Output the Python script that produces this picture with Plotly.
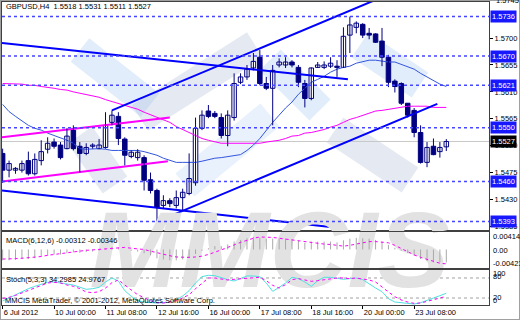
import plotly.graph_objects as go

W, H = 520, 320

# ---------------- data ----------------
opens = [1.5507,1.5479,1.5479,1.5479,1.5495,1.5473,1.5495,1.5514,1.5526,1.5521,
         1.5515,1.5546,1.5519,1.5507,1.5519,1.5515,1.5517,1.5559,1.5569,1.5531,
         1.5502,1.5500,1.5500,1.5463,1.5445,1.5420,1.5428,1.5420,1.5433,1.5440,
         1.5458,1.5549,1.5578,1.5574,1.5567,1.5537,1.5567,1.5626,1.5635,1.5650,
         1.5668,1.5624,1.5616,1.5655,1.5655,1.5660,1.5651,1.5624,1.5599,1.5651,
         1.5651,1.5653,1.5653,1.5651,1.5705,1.5718,1.5723,1.5708,1.5707,1.5695,
         1.5668,1.5628,1.5624,1.5591,1.5579,1.5542,1.5492,1.5519,1.5510,1.5518]
highs = [1.5515,1.5495,1.5484,1.5495,1.5510,1.5507,1.5529,1.5534,1.5532,1.5526,
         1.5549,1.5554,1.5526,1.5524,1.5524,1.5531,1.5576,1.5579,1.5576,1.5534,
         1.5512,1.5514,1.5504,1.5475,1.5448,1.5437,1.5432,1.5445,1.5448,1.5507,
         1.5567,1.5579,1.5588,1.5578,1.5574,1.5579,1.5641,1.5641,1.5655,1.5675,
         1.5680,1.5635,1.5655,1.5666,1.5668,1.5663,1.5655,1.5630,1.5651,1.5660,
         1.5661,1.5668,1.5663,1.5718,1.5736,1.5728,1.5725,1.5717,1.5708,1.5717,
         1.5672,1.5631,1.5626,1.5591,1.5583,1.5554,1.5526,1.5532,1.5526,1.5531]
lows = [1.5458,1.5467,1.5473,1.5475,1.5470,1.5470,1.5487,1.5507,1.5515,1.5497,
        1.5514,1.5512,1.5475,1.5504,1.5515,1.5514,1.5515,1.5554,1.5521,1.5487,
        1.5499,1.5495,1.5445,1.5440,1.5393,1.5415,1.5417,1.5415,1.5412,1.5437,
        1.5453,1.5546,1.5566,1.5566,1.5532,1.5519,1.5562,1.5623,1.5630,1.5646,
        1.5621,1.5613,1.5554,1.5651,1.5650,1.5651,1.5618,1.5584,1.5596,1.5650,
        1.5648,1.5650,1.5635,1.5650,1.5675,1.5708,1.5700,1.5698,1.5692,1.5653,
        1.5618,1.5609,1.5588,1.5567,1.5534,1.5490,1.5484,1.5504,1.5500,1.5511]
closes = [1.5479,1.5490,1.5482,1.5490,1.5473,1.5497,1.5510,1.5524,1.5519,1.5500,
          1.5536,1.5515,1.5507,1.5517,1.5521,1.5521,1.5554,1.5571,1.5532,1.5504,
          1.5509,1.5509,1.5462,1.5445,1.5417,1.5428,1.5423,1.5433,1.5442,1.5465,
          1.5549,1.5571,1.5569,1.5569,1.5537,1.5571,1.5624,1.5635,1.5648,1.5661,
          1.5624,1.5616,1.5646,1.5660,1.5660,1.5655,1.5626,1.5599,1.5650,1.5655,
          1.5655,1.5658,1.5651,1.5703,1.5722,1.5725,1.5705,1.5705,1.5693,1.5668,
          1.5626,1.5619,1.5591,1.5571,1.5542,1.5492,1.5517,1.5505,1.5517,1.5527]

ma_fast = [1.5589,1.5577,1.5569,1.5561,1.5554,1.5549,1.5546,1.5541,1.5537,1.5534,
           1.5529,1.5524,1.5515,1.5514,1.5515,1.5515,1.5514,1.5512,1.5512,1.5512,
           1.5512,1.5512,1.5510,1.5507,1.5504,1.5499,1.5495,1.5492,1.5492,1.5492,
           1.5492,1.5494,1.5497,1.5499,1.5500,1.5502,1.5504,1.5505,1.5512,1.5521,
           1.5532,1.5546,1.5559,1.5571,1.5583,1.5593,1.5606,1.5616,1.5626,1.5631,
           1.5636,1.5643,1.5648,1.5651,1.5653,1.5658,1.5660,1.5663,1.5663,1.5661,
           1.5660,1.5660,1.5656,1.5653,1.5648,1.5641,1.5635,1.5628,1.5623,1.5619]
ma_slow = [1.5624,1.5624,1.5623,1.5623,1.5621,1.5621,1.5619,1.5618,1.5616,1.5614,
           1.5613,1.5610,1.5608,1.5606,1.5603,1.5601,1.5597,1.5594,1.5591,1.5588,
           1.5584,1.5581,1.5576,1.5572,1.5567,1.5564,1.5559,1.5552,1.5547,1.5542,
           1.5536,1.5532,1.5529,1.5526,1.5524,1.5524,1.5524,1.5524,1.5524,1.5524,
           1.5524,1.5526,1.5527,1.5529,1.5532,1.5536,1.5537,1.5541,1.5542,1.5544,
           1.5547,1.5551,1.5554,1.5559,1.5564,1.5567,1.5571,1.5574,1.5578,1.5579,
           1.5581,1.5583,1.5584,1.5586,1.5586,1.5586,1.5586,1.5584,1.5584,1.5584]

macd_main = [-0.0026,-0.0026,-0.0025,-0.0023,-0.0023,-0.0021,-0.0018,-0.0015,-0.0012,-0.0012,
             -0.0009,-0.0007,-0.0008,-0.0006,-0.0005,-0.0003,0.0002,0.0006,0.0005,0.0000,
             -0.0003,-0.0005,-0.0009,-0.0014,-0.0021,-0.0024,-0.0026,-0.0026,-0.0024,-0.0020,
             -0.0011,-0.0003,0.0003,0.0008,0.0008,0.0012,0.0019,0.0023,0.0027,0.0030,
             0.0029,0.0026,0.0026,0.0026,0.0026,0.0025,0.0021,0.0016,0.0019,0.0019,
             0.0019,0.0019,0.0017,0.0022,0.0026,0.0028,0.0027,0.0026,0.0023,0.0019,
             0.0011,0.0004,-0.0003,-0.0009,-0.0015,-0.0023,-0.0028,-0.0031,-0.0031,-0.00312]
macd_signal = [-0.0023,-0.0023,-0.0022,-0.0021,-0.0020,-0.0019,-0.0017,-0.0014,-0.0012,-0.0009,
               -0.0007,-0.0005,-0.0003,-0.0002,-0.0001,0.0000,0.0002,0.0003,0.0004,0.0005,
               0.0003,0.0001,0.0000,-0.0004,-0.0008,-0.0012,-0.0015,-0.0018,-0.0019,-0.0019,
               -0.0018,-0.0016,-0.0012,-0.0007,-0.0001,0.0005,0.0012,0.0017,0.0022,0.0027,
               0.0030,0.0030,0.0029,0.0027,0.0025,0.0023,0.0021,0.0018,0.0016,0.0014,
               0.0013,0.0012,0.0010,0.0008,0.0010,0.0013,0.0017,0.0019,0.0019,0.0018,
               0.0016,0.0010,0.0002,-0.0006,-0.0013,-0.0019,-0.0024,-0.0029,-0.0033,-0.00346]

stoch_main = [11,20,30,40,48,55,62,67,68,66,
              62,59,52,46,48,52,68,80,71,42,
              25,12,8,6,5,6,8,15,26,42,
              65,84,88,87,80,75,71,78,86,86,
              84,65,40,52,65,82,78,68,55,72,
              82,82,78,76,78,80,75,62,50,39,
              18,8,6,4,2,6,14,20,27,34.2985]
stoch_signal = [19,22,28,35,42,50,58,65,67,65,
                59,55,48,38,36,39,50,66,74,58,
                44,30,20,12,6,5,8,12,20,30,
                48,65,80,80,76,74,76,78,80,82,
                82,72,58,50,60,75,78,74,70,72,
                75,78,80,80,78,80,78,74,68,52,
                38,24,14,8,4,5,10,16,21,24.9767]

x_tick_bars = [0, 8, 16, 24, 32, 40, 48, 56, 64]
x_tick_labels = ["6 Jul 2012", "10 Jul 00:00", "11 Jul 08:00", "12 Jul 16:00",
                 "16 Jul 00:00", "17 Jul 08:00", "18 Jul 16:00", "20 Jul 00:00",
                 "23 Jul 08:00"]
price_ticks = [1.5700, 1.5655, 1.5610, 1.5565, 1.5520, 1.5475, 1.5430, 1.5385]
level_prices = [1.5736, 1.5670, 1.5621, 1.5550, 1.5460, 1.5393]
current_price = 1.5527

# trend lines: (bar0, price0, bar1, price1)
blue_lines = [(-0.1, 1.5692, 53.7, 1.5631),
              (17.0, 1.5579, 60.0, 1.5773),
              (24.0, 1.5393, 67.6, 1.5590),
              (-0.1, 1.5445, 51.7, 1.5383)]
magenta_lines = [(-0.1, 1.5534, 26.0, 1.5567),
                 (-0.1, 1.5460, 25.7, 1.5494)]

# ---------------- figure ----------------
FONT = "Liberation Sans"
FS = 7.5
NAVY = "#000080"
XMIN, XMAX = -0.1, 75.64
idx = list(range(len(closes)))

def py(px):
    return 1 - px / H

def pxx(px):
    return px / W

fig = go.Figure()

# moving averages
fig.add_trace(go.Scatter(x=idx, y=ma_slow, mode="lines",
                         line=dict(color="#FF00FF", width=1), xaxis="x", yaxis="y"))
fig.add_trace(go.Scatter(x=idx, y=ma_fast, mode="lines",
                         line=dict(color="#3355DD", width=1), xaxis="x", yaxis="y"))

# trend lines
for (x0, p0, x1, p1) in magenta_lines:
    fig.add_trace(go.Scatter(x=[x0, x1], y=[p0, p1], mode="lines",
                             line=dict(color="#FF00FF", width=2), xaxis="x", yaxis="y"))
for (x0, p0, x1, p1) in blue_lines:
    fig.add_trace(go.Scatter(x=[x0, x1], y=[p0, p1], mode="lines",
                             line=dict(color="#0000FF", width=2), xaxis="x", yaxis="y"))

# wicks
wx, wy = [], []
for i in idx:
    wx += [i, i, None]
    wy += [lows[i], highs[i], None]
fig.add_trace(go.Scatter(x=wx, y=wy, mode="lines", line=dict(color=NAVY, width=1),
                         xaxis="x", yaxis="y"))

# bodies
up = [i for i in idx if closes[i] >= opens[i]]
dn = [i for i in idx if closes[i] < opens[i]]
MINB = 0.00005
fig.add_trace(go.Bar(x=up, y=[max(closes[i] - opens[i], MINB) for i in up],
                     base=[opens[i] for i in up], width=0.7,
                     marker=dict(color="white", line=dict(color=NAVY, width=1)),
                     xaxis="x", yaxis="y"))
fig.add_trace(go.Bar(x=dn, y=[max(opens[i] - closes[i], MINB) for i in dn],
                     base=[closes[i] for i in dn], width=0.7,
                     marker=dict(color=NAVY, line=dict(color=NAVY, width=1)),
                     xaxis="x", yaxis="y"))

# watermark text, placed in the MACD pane (first trace there) so it stays under its lines
fig.add_trace(go.Scatter(
    x=[41.5], y=[-0.0026], mode="text", text=["MMCIS"], cliponaxis=False,
    textfont=dict(size=108, color="#E2E2E2", family=FONT, weight="bold", style="italic"),
    hoverinfo="skip", showlegend=False, xaxis="x2", yaxis="y2"))

# MACD histogram as thin gray lines
hx, hy = [], []
for i in idx:
    hx += [i, i, None]
    hy += [0, macd_main[i], None]
fig.add_trace(go.Scatter(x=hx, y=hy, mode="lines", line=dict(color="#A8A8A8", width=1),
                         xaxis="x2", yaxis="y2"))
fig.add_trace(go.Scatter(x=idx, y=macd_signal, mode="lines",
                         line=dict(color="#FF00FF", width=1, dash="dot"),
                         xaxis="x2", yaxis="y2"))

# Stochastic
fig.add_trace(go.Scatter(x=idx, y=stoch_main, mode="lines",
                         line=dict(color="#50E0E0", width=1), xaxis="x3", yaxis="y3"))
fig.add_trace(go.Scatter(x=idx, y=stoch_signal, mode="lines",
                         line=dict(color="#FF00FF", width=1, dash="dot"),
                         xaxis="x3", yaxis="y3"))

shapes = []
# faint logo bands of the background watermark (decoration, paper pixels)
logo_bands = [((80, 50), (150, 105), "rgba(150,190,240,0.28)"),
              ((140, 118), (255, 45), "rgba(160,175,210,0.28)"),
              ((270, 60), (320, 110), "rgba(150,190,240,0.28)"),
              ((360, 45), (420, 85), "rgba(150,190,240,0.28)"),
              ((80, 135), (115, 185), "rgba(160,175,210,0.28)"),
              ((185, 185), (270, 115), "rgba(150,190,240,0.22)"),
              ((335, 130), (410, 180), "rgba(160,175,210,0.28)")]
for (a, b, col) in logo_bands:
    shapes.append(dict(type="line", xref="paper", yref="paper",
                       x0=pxx(a[0]), y0=py(a[1]), x1=pxx(b[0]), y1=py(b[1]),
                       line=dict(color=col, width=30), layer="below"))
# current price line
shapes.append(dict(type="line", xref="x domain", yref="y", x0=0, x1=1,
                   y0=current_price, y1=current_price,
                   line=dict(color="#C8C8C8", width=1), layer="below"))
for lv in level_prices:
    shapes.append(dict(type="line", xref="x domain", yref="y", x0=0, x1=1, y0=lv, y1=lv,
                       line=dict(color="#4646FF", width=1.5, dash="3px,3px"), layer="above"))
for lv in [80, 20]:
    shapes.append(dict(type="line", xref="x3 domain", yref="y3", x0=0, x1=1, y0=lv, y1=lv,
                       line=dict(color="#A0A0A0", width=1, dash="3px,3px"), layer="below"))
# outer frame
shapes.append(dict(type="rect", xref="paper", yref="paper", x0=0, x1=1, y0=0, y1=1,
                   line=dict(color="#A0A0A0", width=2), layer="below"))

annotations = []
def label(text, xpx, ypx, color="black", size=FS, anchor="left"):
    annotations.append(dict(text=text, x=pxx(xpx), y=py(ypx), xref="paper", yref="paper",
                            xanchor=anchor, yanchor="middle", showarrow=False,
                            font=dict(family=FONT, size=size, color=color)))

label("GBPUSD,H4\u00a0\u00a01.5518 1.5531 1.5511 1.5527", 4, 7)
label("MACD(6,12,6) -0.00312 -0.00346", 4, 240)
label("Stoch(5,3,3) 34.2985 24.9767", 4, 279)
label("MMCIS MetaTrader, \u00a9 2001-2012, MetaQuotes Software Corp.", 3, 300)
label("1.5745", 494, 0)
label("0.00414", 491, 236)
label("0.00", 491, 250)
label("-0.00423", 491, 263)
label("100", 491, 273)
label("80", 491, 276)
label("20", 491, 297)
label("0", 491, 300)

for lv in level_prices:
    annotations.append(dict(text=f"{lv:.4f}", x=pxx(490), y=lv, xref="paper", yref="y",
                            xanchor="left", yanchor="middle", showarrow=False,
                            bgcolor="#1818FF", borderpad=1,
                            font=dict(family=FONT, size=FS, color="white")))
annotations.append(dict(text=f"{current_price:.4f}", x=pxx(490), y=current_price,
                        xref="paper", yref="y", xanchor="left", yanchor="middle",
                        showarrow=False, bgcolor="black", borderpad=1,
                        font=dict(family=FONT, size=FS, color="white")))

XDOM = [pxx(2), pxx(489)]
frame = dict(showline=True, mirror=True, linecolor="#404040", linewidth=1,
             showgrid=False, zeroline=False)

fig.update_layout(
    width=W, height=H, margin=dict(l=0, r=0, t=0, b=0),
    paper_bgcolor="white", plot_bgcolor="rgba(0,0,0,0)",
    showlegend=False, barmode="overlay", hovermode=False,
    font=dict(family=FONT, size=FS, color="black"),
    shapes=shapes, annotations=annotations,
    xaxis=dict(domain=XDOM, range=[XMIN, XMAX], anchor="y", showticklabels=False,
               ticks="", **frame),
    yaxis=dict(domain=[py(229.5), py(2)], range=[1.53797, 1.57604], anchor="x",
               side="right", tickvals=price_ticks, tickformat=".4f", ticks="outside",
               ticklen=3, tickcolor="black", tickfont=dict(size=FS), **frame),
    xaxis2=dict(domain=XDOM, range=[XMIN, XMAX], matches="x", anchor="y2",
                showticklabels=False, ticks="", **frame),
    yaxis2=dict(domain=[py(268), py(231.5)], range=[-0.00445, 0.00432], anchor="x2",
                side="right", showticklabels=False, ticks="", **frame),
    xaxis3=dict(domain=XDOM, range=[XMIN, XMAX], matches="x", anchor="y3",
                tickvals=x_tick_bars, ticktext=x_tick_labels, ticks="outside", ticklen=3,
                tickcolor="black", ticklabelposition="outside right",
                tickfont=dict(size=FS), **frame),
    yaxis3=dict(domain=[py(305), py(270)], range=[-0.9, 103.9], anchor="x3",
                side="right", showticklabels=False, ticks="", **frame),
)

fig.write_html("out.html")
